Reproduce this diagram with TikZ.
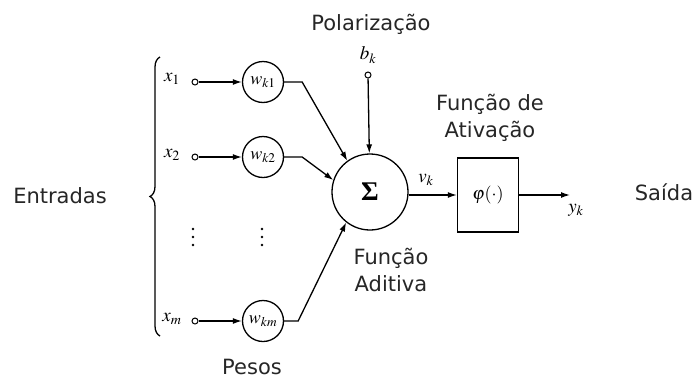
\documentclass[tikz,border=0pt]{standalone}
\usepackage{mathptmx}
\usepackage[no-math]{fontspec}
\setmainfont{DejaVu Sans}
\newfontfamily\serifbold{Liberation Serif}
\usetikzlibrary{arrows.meta,decorations.pathreplacing}
\begin{document}
\begin{tikzpicture}[x=1pt,y=-1pt,
  lbl/.style={font=\fontsize{21}{27}\selectfont, align=center, text=black!85, inner sep=0pt},
  mth/.style={font=\fontsize{19}{19}\selectfont, inner sep=0pt},
  port/.style={circle, draw, line width=1pt, inner sep=0pt, minimum size=6pt},
  wt/.style={circle, draw, line width=1.3pt, inner sep=0pt, minimum size=41pt, font=\fontsize{18}{18}\selectfont},
  dotmark/.style={circle, fill, inner sep=0pt, minimum size=2.6pt},
  conn/.style={line width=1.3pt, -{Latex[length=9pt,width=6pt]}}]
\useasboundingbox (0,0) rectangle (697,381);

% inputs
\node[mth] (x1) at (172,79) {$x_1$};
\node[mth] (x2) at (172,155) {$x_2$};
\node[mth] (xm) at (172,319) {$x_m$};
\node[port] (p1) at (195,82) {};
\node[port] (p2) at (195,157) {};
\node[port] (pm) at (195,321) {};

% synaptic weights
\node[wt] (w1) at (263,82) {$w_{k1}$};
\node[wt] (w2) at (263,157) {$w_{k2}$};
\node[wt] (wm) at (263,321) {$w_{km}$};

% vertical ellipsis between the rows
\foreach \i/\yy in {1/229,2/237,3/245} {
  \node[dotmark] (da\i) at (193,\yy) {};
  \node[dotmark] (db\i) at (262,\yy) {};
}

% summing junction
\node[circle, draw, line width=1.3pt, minimum size=76pt, inner sep=0pt,
      font=\serifbold\bfseries\fontsize{27}{27}\selectfont] (s) at (370,192) {Σ};

% bias
\node[mth] (bk) at (368,55) {$b_k$};
\node[port] (pb) at (368,75) {};

% activation
\node[draw, line width=1.3pt, minimum width=61pt, minimum height=74pt, inner sep=0pt,
      font=\fontsize{18}{18}\selectfont] (phi) at (488,195) {$\varphi(\cdot)$};
\coordinate (out) at (570,195);
\node[mth] (yk) at (576,210) {$y_k$};
\node[mth] (vk) at (426,180) {$v_k$};

% connections
\draw[conn] (p1) -- (w1);
\draw[conn] (p2) -- (w2);
\draw[conn] (pm) -- (wm);
\draw[conn] (w1.east) -- ++(18,0) -- (s.126);
\draw[conn] (w2.east) -- ++(18,0) -- (s.162);
\draw[conn] (wm.east) -- ++(14,0) -- (s.232);
\draw[conn] (pb) -- (s);
\draw[conn] (s.east |- phi.west) -- (phi.west);
\draw[conn] (phi.east) -- (out);

% input brace
\draw[line width=1.3pt, decorate, decoration={brace, amplitude=10pt}] (160,336) -- (160,57);

% labels
\node[lbl] (ent) at (60,196) {Entradas};
\node[lbl] (pol) at (371,24) {Polarização};
\node[lbl] (fat) at (490,118) {Função de\\Ativação};
\node[lbl] (fad) at (391,270) {Função\\Aditiva};
\node[lbl] (pes) at (252,367) {Pesos};
\node[lbl] (sai) at (664,192) {Saída};
\end{tikzpicture}
\end{document}
